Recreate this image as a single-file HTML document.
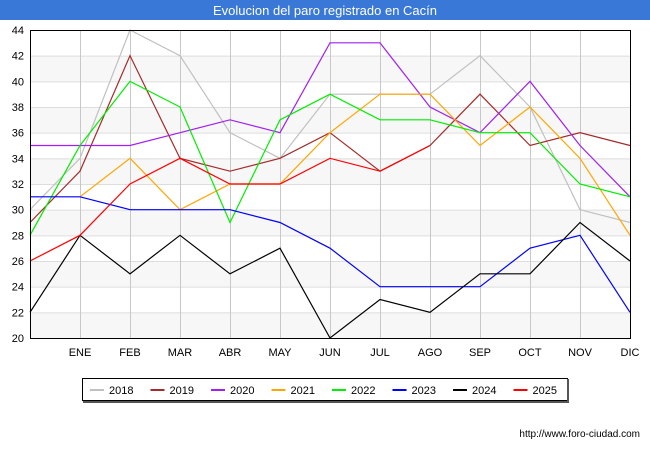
<!DOCTYPE html>
<html><head><meta charset="utf-8"><style>
body{margin:0;background:#fff;font-family:"Liberation Sans",sans-serif;}
#wrap{position:relative;width:650px;height:450px;}
</style></head><body>
<div id="wrap">
<svg id="svg" width="650" height="450" xmlns="http://www.w3.org/2000/svg">
<rect x="0" y="0" width="650" height="20" fill="#3a78d8"/>
<text x="325" y="15" text-anchor="middle" font-size="13" fill="#fff" font-family="Liberation Sans, sans-serif">Evolucion del paro registrado en Cacín</text>
<g id="grid"></g><g id="lines"></g>
<rect x="30.5" y="30.5" width="600" height="308" fill="none" stroke="#000"/>
<g id="axes"></g>
<g id="legend"></g>
<text x="640" y="437" text-anchor="end" font-size="10" fill="#000" font-family="Liberation Sans, sans-serif">http://www.foro-ciudad.com</text>
</svg>
</div>
<script>
const months = ["", "ENE","FEB","MAR","ABR","MAY","JUN","JUL","AGO","SEP","OCT","NOV","DIC"];
const yTicks = [20,22,24,26,28,30,32,34,36,38,40,42,44];
const seriesNames = ["2018","2019","2020","2021","2022","2023","2024","2025"];
const seriesColors = ["#c0c0c0","#a52a2a","#a020f0","#ffa500","#00ee00","#0000ff","#000000","#ff0000"];
const s2018 = [30,34,44,42,36,34,39,39,39,42,38,30,29];
const s2019 = [29,33,42,34,33,34,36,33,35,39,35,36,35];
const s2020 = [35,35,35,36,37,36,43,43,38,36,40,35,31];
const s2021 = [null,31,34,30,32,32,36,39,39,35,38,34,28];
const s2022 = [28,35,40,38,29,37,39,37,37,36,36,32,31];
const s2023 = [31,31,30,30,30,29,27,24,24,24,27,28,22];
const s2024 = [22,28,25,28,25,27,20,23,22,25,25,29,26];
const s2025 = [26,28,32,34,32,32,34,33,35];
const allSeries = [s2018,s2019,s2020,s2021,s2022,s2023,s2024,s2025];

const NS="http://www.w3.org/2000/svg";
const x0=30,x1=630,y0=30,y1=338,ymin=20,ymax=44;
const xs=i=>x0+i*(x1-x0)/(months.length-1);
const ys=v=>y1-(v-ymin)/(ymax-ymin)*(y1-y0);
function mk(t,a,p){const e=document.createElementNS(NS,t);for(const k in a)e.setAttribute(k,a[k]);p.appendChild(e);return e;}
const grid=document.getElementById('grid'),axes=document.getElementById('axes'),lines=document.getElementById('lines'),legend=document.getElementById('legend');
for(let i=0;i<yTicks.length-1;i++){
  if(i%2===0){const r=mk('rect',{x:x0,y:ys(yTicks[i+1]),width:x1-x0,height:ys(yTicks[i])-ys(yTicks[i+1]),fill:'#f7f7f7'},grid);
  
  }
}
yTicks.forEach(v=>{
  const l=mk('line',{x1:x0,x2:x1,y1:ys(v)+0.5,y2:ys(v)+0.5,stroke:'#dddddd'},grid);
  
  
  const t=mk('text',{x:24,y:ys(v)+4,'text-anchor':'end','font-size':'11',fill:'#000','font-family':'Liberation Sans, sans-serif'},axes);
  t.textContent=v;
  
  
});
months.forEach((m,i)=>{
  if(i>0&&i<months.length-1){const l=mk('line',{x1:xs(i)+0.5,x2:xs(i)+0.5,y1:y0,y2:y1,stroke:'#c8c8c8'},grid);
  
  }
  if(m){const t=mk('text',{x:xs(i),y:356,'text-anchor':'middle','font-size':'11',fill:'#000','font-family':'Liberation Sans, sans-serif'},axes);
  t.textContent=m;
  
  }
});
allSeries.forEach((s,k)=>{
  let d='';s.forEach((v,i)=>{if(v==null)return;d+=(d?'L':'M')+xs(i)+','+ys(v);});
  const p=mk('path',{d:d,fill:'none',stroke:seriesColors[k],'stroke-width':'1.2'},lines);
  
  
});
const lb=mk('rect',{x:82.5,y:378.5,width:485,height:22,fill:'#fff',stroke:'#000'},legend);


const sh=mk('path',{d:'M568,379V402H83',fill:'none',stroke:'#555','stroke-width':'2'},legend);


seriesNames.forEach((n,k)=>{
  const bx=90+k*60.5;
  const l=mk('line',{x1:bx,x2:bx+14,y1:390,y2:390,stroke:seriesColors[k],'stroke-width':'2'},legend);
  
  
  const t=mk('text',{x:bx+19,y:394,'font-size':'11',fill:'#000','font-family':'Liberation Sans, sans-serif'},legend);
  t.textContent=n;
  
  
});
</script>
</body></html>
